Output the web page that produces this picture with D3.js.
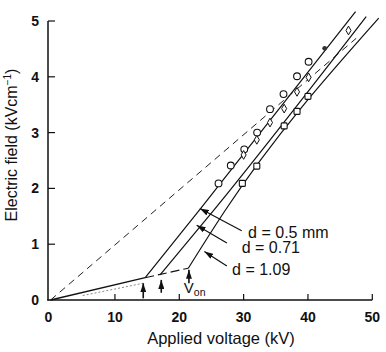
<!DOCTYPE html>
<html>
<head>
<meta charset="utf-8">
<script src="https://cdn.jsdelivr.net/npm/d3@7"></script>
<style>
  body { margin: 0; background: #fff; }
  text { font-family: "Liberation Sans", Arial, sans-serif; fill: #111; }
</style>
</head>
<body>
<div id="chart"></div>
<script>
// Electric field vs applied voltage, three gap distances d

const voltTicks = [0, 10, 20, 30, 40, 50];
const fieldTicks = [0, 1, 2, 3, 4, 5];

// measured points (kV, kV/cm)
const circlePts = [[26.1, 2.09], [28.0, 2.41], [30.1, 2.70], [32.1, 3.0], [34.1, 3.42],
                   [36.2, 3.69], [38.3, 4.01], [40.1, 4.27]];
const diamondPts = [[30.0, 2.60], [32.05, 2.87], [34.1, 3.18], [36.3, 3.43], [38.3, 3.73],
                    [40.1, 3.99], [46.3, 4.83]];
const squarePts = [[29.8, 2.09], [32.05, 2.40], [36.3, 3.12], [38.3, 3.38], [40.0, 3.65]];
const filledPts = [[42.6, 4.51]];

// fitted curves
const lowSolid = [[0, 0], [14.7, 0.40]];
const lowDashed = [[14.7, 0.40], [21.4, 0.57]];
const lowFaint = [[5, 0.08], [14.4, 0.30]];
const line05 = [[14.7, 0.40], [23.4, 1.65], [47.4, 5.17]];
const line071 = [[17.0, 0.45], [25.5, 1.63], [49.05, 5.08]];
const line109 = [[21.4, 0.57], [27.1, 1.6], [51, 5.05]];
const originDashed = [[0, 0], [47.5, 4.69]];

// onset voltages V_on
const onsetV = [14.4, 17.2, 21.5];
const onsetFrom = [0.03, 0.13, 0.30];
const onsetTo = [0.30, 0.36, 0.54];

const labels = ["d = 0.5 mm", "d = 0.71", "d = 1.09"];

const width = 386, height = 352;
const svg = d3.select("#chart").append("svg")
  .attr("width", width).attr("height", height)
  .style("background", "#fff");

const x = d3.scaleLinear().domain([0, 50]).range([50.6, 372.3]);
const y = d3.scaleLinear().domain([0, 5]).range([300, 21]);

const defs = svg.append("defs");
defs.append("marker").attr("id", "head")
  .attr("viewBox", "0 0 10 10").attr("refX", 10).attr("refY", 5)
  .attr("markerWidth", 9).attr("markerHeight", 6)
  .attr("markerUnits", "userSpaceOnUse").attr("orient", "auto")
  .attr("preserveAspectRatio", "none")
  .append("path").attr("d", "M0,0L10,5L0,10z").attr("fill", "#111");

// axes
svg.append("line").attr("x1", 48).attr("x2", 48).attr("y1", y(5)).attr("y2", 300.5)
  .attr("stroke", "#111").attr("stroke-width", 1.5);
svg.append("line").attr("x1", 47.3).attr("x2", x(50)).attr("y1", 300).attr("y2", 300)
  .attr("stroke", "#111").attr("stroke-width", 1.5);

svg.selectAll(".xt").data(voltTicks.slice(1)).enter().append("line")
  .attr("x1", d => x(d)).attr("x2", d => x(d)).attr("y1", 300).attr("y2", 294)
  .attr("stroke", "#111").attr("stroke-width", 1.2);
svg.selectAll(".yt").data(fieldTicks.slice(1)).enter().append("line")
  .attr("x1", 48).attr("x2", 55).attr("y1", d => y(d)).attr("y2", d => y(d))
  .attr("stroke", "#111").attr("stroke-width", 1.2);

svg.selectAll(".xl").data(voltTicks).enter().append("text")
  .attr("x", d => d === 0 ? 48.5 : x(d)).attr("y", 322)
  .attr("text-anchor", "middle").attr("font-size", 14).attr("font-weight", "bold")
  .text(d => d);
svg.selectAll(".yl").data(fieldTicks).enter().append("text")
  .attr("x", 39).attr("y", d => y(d) + 5)
  .attr("text-anchor", "end").attr("font-size", 14).attr("font-weight", "bold")
  .text(d => d);

svg.append("text").attr("x", 221).attr("y", 344).attr("text-anchor", "middle")
  .attr("font-size", 16.5).text("Applied voltage (kV)");
const yt = svg.append("text").attr("transform", "translate(17,145) rotate(-90)")
  .attr("text-anchor", "middle").attr("font-size", 16);
yt.append("tspan").text("Electric field (kVcm");
yt.append("tspan").attr("font-size", 10).attr("dy", -6).text("−1");
yt.append("tspan").attr("dy", 6).text(")");

// curves
const line = d3.line().x(d => x(d[0])).y(d => y(d[1]));
const curve = d3.line().x(d => x(d[0])).y(d => y(d[1])).curve(d3.curveMonotoneX);

svg.append("path").attr("d", line(originDashed)).attr("fill", "none")
  .attr("stroke", "#222").attr("stroke-width", 1).attr("stroke-dasharray", "7,5");
svg.append("path").attr("d", line(lowFaint)).attr("fill", "none")
  .attr("stroke", "#888").attr("stroke-width", 1).attr("stroke-dasharray", "2,2");
svg.append("path").attr("d", line(lowSolid)).attr("fill", "none")
  .attr("stroke", "#111").attr("stroke-width", 1.3);
svg.append("path").attr("d", line(lowDashed)).attr("fill", "none")
  .attr("stroke", "#111").attr("stroke-width", 1.1).attr("stroke-dasharray", "9,4");
[line05, line071, line109].forEach(c => {
  svg.append("path").attr("d", curve(c)).attr("fill", "none")
    .attr("stroke", "#111").attr("stroke-width", 1.2);
});

// symbols
svg.selectAll(".c").data(circlePts).enter().append("circle")
  .attr("cx", d => x(d[0])).attr("cy", d => y(d[1])).attr("r", 3.4)
  .attr("fill", "#fff").attr("stroke", "#111").attr("stroke-width", 1.1);
svg.selectAll(".dm").data(diamondPts).enter().append("path")
  .attr("transform", d => `translate(${x(d[0])},${y(d[1])})`)
  .attr("d", d3.symbol().type(d3.symbolDiamond).size(22))
  .attr("fill", "#fff").attr("stroke", "#111").attr("stroke-width", 1);
svg.selectAll(".sq").data(squarePts).enter().append("rect")
  .attr("x", d => x(d[0]) - 3).attr("y", d => y(d[1]) - 3)
  .attr("width", 6).attr("height", 6).attr("rx", 1)
  .attr("fill", "#fff").attr("stroke", "#111").attr("stroke-width", 1.1);
svg.selectAll(".fp").data(filledPts).enter().append("circle")
  .attr("cx", d => x(d[0])).attr("cy", d => y(d[1])).attr("r", 2.4)
  .attr("fill", "#333");

// onset arrows
onsetV.forEach((v, i) => {
  svg.append("line").attr("x1", x(v)).attr("x2", x(v))
    .attr("y1", y(onsetFrom[i])).attr("y2", y(onsetTo[i]))
    .attr("stroke", "#111").attr("stroke-width", 1.6).attr("marker-end", "url(#head)");
});
const von = svg.append("text").attr("x", x(20.7)).attr("y", 293).attr("font-size", 15);
von.append("tspan").text("V");
von.append("tspan").attr("font-size", 10.5).attr("dy", 3).text("on");

// label arrows
const arrowFrom = [[29.7, 1.24], [27.4, 1.02], [27.4, 0.61]];
const arrowTo = [[23.2, 1.64], [22.7, 1.34], [23.9, 0.87]];
const labelAt = [[30.7, 1.12], [29.7, 0.84], [28.2, 0.45]];
labels.forEach((t, i) => {
  svg.append("line")
    .attr("x1", x(arrowFrom[i][0])).attr("y1", y(arrowFrom[i][1]))
    .attr("x2", x(arrowTo[i][0])).attr("y2", y(arrowTo[i][1]))
    .attr("stroke", "#111").attr("stroke-width", 1.2).attr("marker-end", "url(#head)");
  svg.append("text").attr("x", x(labelAt[i][0])).attr("y", y(labelAt[i][1]))
    .attr("font-size", 16).text(t);
});
</script>
</body>
</html>
